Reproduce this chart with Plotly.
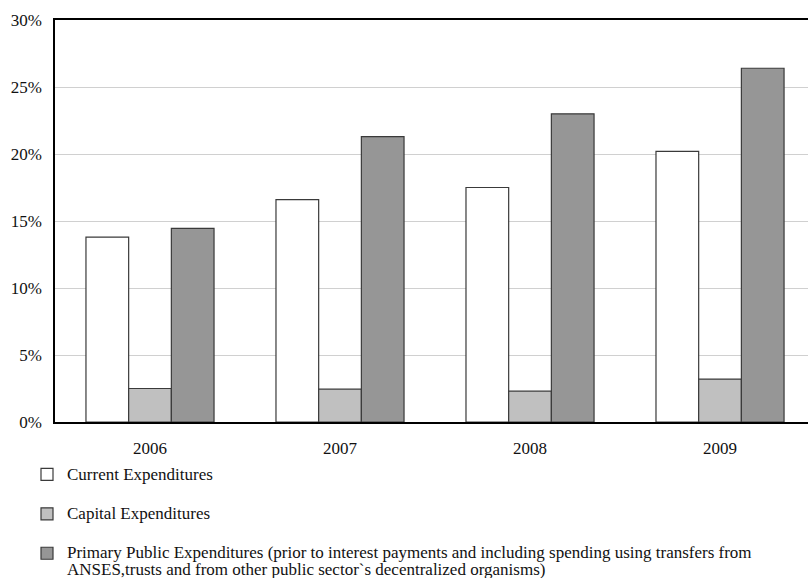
import plotly.graph_objects as go

# Expenditure shares by year (% of GDP)
years = ["2006", "2007", "2008", "2009"]
current_exp = [13.8, 16.6, 17.5, 20.2]
capital_exp = [2.5, 2.45, 2.3, 3.2]
primary_exp = [14.45, 21.3, 23.0, 26.4]

series_names = [
    "Current Expenditures",
    "Capital Expenditures",
    "Primary Public Expenditures (prior to interest payments and including spending using transfers from<br>ANSES,trusts and from other public sector`s decentralized organisms)",
]
series_values = [current_exp, capital_exp, primary_exp]
series_colors = ["#ffffff", "#c0c0c0", "#969696"]

FONT = "Liberation Serif, Times New Roman, serif"


def legend_label(text):
    # larger glyphs on a tighter line pitch than the legend's base size gives
    return "<br>".join(f'<span style="font-size:17px">{part}</span>' for part in text.split("<br>"))


fig = go.Figure()
for i, (name, vals, col) in enumerate(zip(series_names, series_values, series_colors)):
    fig.add_trace(go.Bar(
        x=years, y=vals, name=legend_label(name),
        marker=dict(color=col, line=dict(color="#3a3a3a", width=1.2)),
        legendgroup=f"g{i}",
    ))

fig.update_layout(
    width=808, height=578,
    margin=dict(l=55, r=0, t=20, b=156, autoexpand=False),
    paper_bgcolor="white", plot_bgcolor="white",
    barmode="group", bargap=0.326, bargroupgap=0,
    font=dict(family=FONT, size=17, color="#111111"),
    showlegend=True,
    legend=dict(
        orientation="v", xref="container", x=27 / 808, xanchor="left",
        yref="container", y=1 - 459.5 / 578, yanchor="top",
        traceorder="grouped", tracegroupgap=19.5, valign="top",
        font=dict(family=FONT, size=13, color="#111111"),
        bgcolor="rgba(0,0,0,0)", itemclick=False,
    ),
    xaxis=dict(
        range=[-0.5, 3.463], showline=True, linecolor="black", linewidth=1.5,
        mirror=True, showgrid=False, ticks="", ticklabelstandoff=10,
        tickfont=dict(family=FONT, size=17, color="#111111"),
    ),
    yaxis=dict(
        range=[0, 30], dtick=5, ticksuffix="%", showline=True, linecolor="black",
        linewidth=1.5, showgrid=True, gridcolor="#d0d0d0", gridwidth=1.2,
        zeroline=False, ticks="", ticklabelstandoff=8,
        tickfont=dict(family=FONT, size=17, color="#111111"),
    ),
)

fig.write_html("out.html")
